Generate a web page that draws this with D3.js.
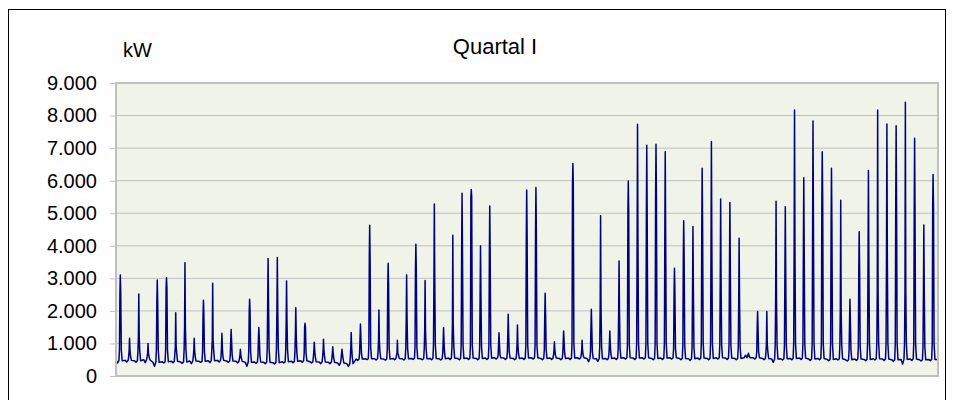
<!DOCTYPE html>
<html>
<head>
<meta charset="utf-8">
<script src="https://cdn.jsdelivr.net/npm/d3@7"></script>
<style>
  body { margin: 0; background: #fff; }
  text { font-family: "Liberation Sans", Arial, sans-serif; fill: #000; }
</style>
</head>
<body>
<script>
// daily values (89 days, kW)
const peak = [
  3100, 1160, 2520, 1000, 2950, 3020, 1945, 3480, 1160, 2330, 2850, 1310, 1430, 820,
  2360, 1490, 3610, 3640, 2920, 2100, 1620, 1040, 1130, 900, 820, 1340,
  1600, 4630, 2030, 3460, 1100, 3100, 4050, 2930, 5280, 1490, 4320, 5610, 5730, 4000, 5220,
  1330, 1900, 1570, 5710, 5790, 2540, 1050, 1380, 6530, 1100, 2050, 4920, 1380, 3530,
  5990, 7730, 7090, 7120, 6890, 3310, 4770, 4590, 6380, 7200, 5440, 5330, 4230, 700,
  1980, 1980, 5370, 5200, 8170, 6090, 7830, 6890, 6380, 5400, 2360, 4430, 6310, 8170,
  7740, 7690, 8410, 7300, 4640, 6190
];
const shoulder = [
  2540, 800, 1200, 700, 2300, 2700, 900, 1500, 800, 1900, 1100, 900, 1100, 650,
  2000, 1200, 2300, 2100, 1700, 1300, 1500, 800, 800, 700, 700, 900,
  1200, 3600, 1100, 2800, 700, 1800, 3300, 1400, 3000, 1100, 1600, 3900, 5500, 2500, 3700,
  1000, 1300, 1000, 4300, 4400, 1900, 800, 1100, 5900, 800, 1500, 2200, 1000, 2000,
  5000, 4200, 4900, 5500, 4400, 2600, 3700, 2700, 4600, 4100, 3000, 3400, 2300, 650,
  1500, 1000, 2400, 3200, 4000, 3900, 4700, 5500, 4600, 2100, 1700, 3300, 3600, 2600,
  3800, 5300, 2600, 5000, 2600, 5240
];
const ramp = [
  800, 600, 750, 600, 800, 800, 700, 800, 600, 750, 800, 600, 650, 550,
  750, 650, 850, 850, 800, 750, 700, 600, 600, 550, 550, 600,
  700, 900, 750, 850, 650, 850, 900, 850, 950, 700, 900, 950, 950, 900, 950,
  650, 750, 700, 950, 950, 800, 650, 700, 1000, 650, 750, 900, 700, 850, 950, 1000, 1000,
  1000, 1000, 850, 950, 900, 1000, 1000, 950, 950, 900, 600,
  750, 750, 950, 950, 1000, 1000, 1000, 1000, 1000, 950, 800, 900, 1000, 1000, 1000, 1000,
  1000, 1000, 900, 1000
];
const base = [
  470, 480, 470, 500, 420, 440, 450, 430, 460, 450, 470, 480, 460, 450,
  420, 430, 420, 410, 440, 450, 470, 440, 430, 420, 400, 380,
  520, 530, 530, 520, 540, 530, 540, 530, 540, 530, 550, 540, 550, 540, 550,
  560, 550, 540, 550, 560, 540, 550, 540, 550, 560, 540, 530, 540, 550, 560, 550, 560,
  540, 550, 560, 540, 530, 550, 540, 560, 550, 540, 560,
  560, 540, 520, 530, 540, 550, 520, 540, 510, 530, 500, 520, 510, 530, 520, 500,
  510, 520, 500, 510
];
const low = [
  400, 430, 420, 410, 300, 400, 410, 390, 380, 420, 410, 430, 420, 400,
  300, 390, 380, 370, 400, 410, 420, 400, 380, 380, 330, 290,
  480, 500, 490, 490, 500, 490, 510, 500, 500, 490, 510, 500, 510, 500, 510,
  520, 510, 500, 510, 520, 500, 510, 500, 510, 520, 440, 450, 500, 510, 520, 510, 520,
  500, 510, 520, 500, 480, 510, 500, 520, 510, 500, 640,
  520, 500, 420, 490, 500, 510, 480, 500, 470, 490, 460, 480, 470, 490, 480, 450,
  370, 480, 460, 470
];
const yTicks = [0, 1000, 2000, 3000, 4000, 5000, 6000, 7000, 8000, 9000];

// one point per reading hour, values from the arrays above
const series = [];
peak.forEach((p, d) => {
  series.push([d, base[d]]);
  series.push([d + 4 / 24, low[d]]);
  series.push([d + 7.5 / 24, base[d]]);
  series.push([d + 9 / 24, ramp[d]]);
  series.push([d + 10.2 / 24, shoulder[d]]);
  series.push([d + 11.2 / 24, p]);
  series.push([d + 12.3 / 24, shoulder[d]]);
  series.push([d + 13.8 / 24, ramp[d]]);
  series.push([d + 16 / 24, base[d]]);
});
series.push([peak.length, base[base.length - 1]]);

const width = 955, height = 400;
const plot = { left: 116, right: 938, top: 83, bottom: 376 };

const svg = d3.select('body').append('svg')
  .attr('width', width)
  .attr('height', height);

svg.append('rect')
  .attr('x', 8.5).attr('y', 9.5)
  .attr('width', 937).attr('height', 400)
  .attr('fill', '#fff')
  .attr('stroke', '#000');

const x = d3.scaleLinear().domain([0, peak.length]).range([plot.left, plot.right]);
const y = d3.scaleLinear().domain([0, 9000]).range([plot.bottom, plot.top]);

svg.append('rect')
  .attr('x', plot.left).attr('y', plot.top)
  .attr('width', plot.right - plot.left).attr('height', plot.bottom - plot.top)
  .attr('fill', '#f0f3e8');

svg.append('g')
  .selectAll('line')
  .data(yTicks.slice(1, -1))
  .join('line')
  .attr('x1', plot.left).attr('x2', plot.right)
  .attr('y1', d => y(d)).attr('y2', d => y(d))
  .attr('stroke', '#c0c0c0')
  .attr('stroke-width', 1);

const yAxis = svg.append('g')
  .attr('transform', `translate(${plot.left},0)`)
  .call(d3.axisLeft(y).tickValues(yTicks).tickSize(6).tickPadding(13)
    .tickFormat(d => d3.format(',')(d).replace(/,/g, '.')));
yAxis.select('.domain').remove();
yAxis.selectAll('line').attr('stroke', '#c0c0c0');
yAxis.selectAll('text')
  .style('font-family', '"Liberation Sans", Arial, sans-serif')
  .style('font-size', '20px')
  .attr('fill', '#000');

svg.append('path')
  .datum(series)
  .attr('fill', 'none')
  .attr('stroke', '#000080')
  .attr('stroke-width', 1.5)
  .attr('stroke-linejoin', 'round')
  .attr('d', d3.line().x(d => x(d[0])).y(d => y(d[1])));

svg.append('rect')
  .attr('x', plot.left).attr('y', plot.top)
  .attr('width', plot.right - plot.left).attr('height', plot.bottom - plot.top)
  .attr('fill', 'none')
  .attr('stroke', '#c0c0c0')
  .attr('stroke-width', 2);

svg.append('text')
  .attr('x', 123).attr('y', 57)
  .style('font-size', '20px')
  .text('kW');

svg.append('text')
  .attr('x', 495).attr('y', 54)
  .attr('text-anchor', 'middle')
  .style('font-size', '22px')
  .text('Quartal I');
</script>
</body>
</html>
